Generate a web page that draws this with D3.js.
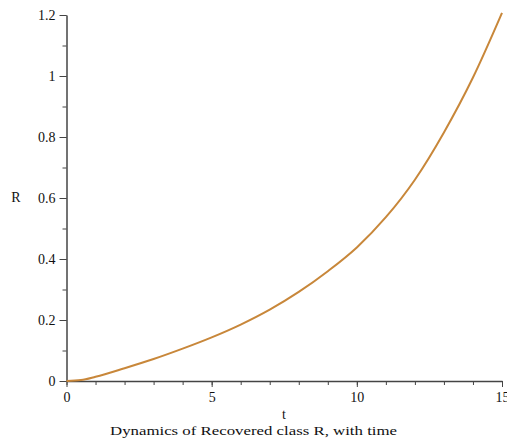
<!DOCTYPE html>
<html>
<head>
<meta charset="utf-8">
<script src="https://cdn.jsdelivr.net/npm/d3@7"></script>
<style>
  body { margin: 0; background: #fff; }
  text { font-family: "Liberation Serif", "DejaVu Serif", serif; fill: #111; }
</style>
</head>
<body>
<div id="chart"></div>
<script>
// values
var tValues = [0, 0.5, 1, 2, 3, 4, 5, 6, 7, 8, 9, 10, 11, 12, 13, 14, 15];
var rValues = [0, 0.003, 0.014, 0.042, 0.072, 0.106, 0.143, 0.185, 0.234, 0.292, 0.360, 0.438, 0.537, 0.660, 0.815, 0.995, 1.207];
var xTicks = [0, 5, 10, 15];
var yTicks = [0, 0.2, 0.4, 0.6, 0.8, 1, 1.2];
var xMinor = d3.range(0, 16, 1);
var yMinor = d3.range(0, 12.5, 1).map(d => d / 10);

var svgWidth = 507;
var svgHeight = 441;

var svg = d3.select("#chart")
    .append("svg")
    .attr("width", svgWidth)
    .attr("height", svgHeight);

var xScale = d3.scaleLinear().domain([0, 15]).range([66.5, 502]);
var yScale = d3.scaleLinear().domain([0, 1.2]).range([381, 15]);

var axisColor = "#444";

// minor ticks first
var xMinorAxis = d3.axisBottom(xScale).tickValues(xMinor).tickSize(4).tickFormat("");
var yMinorAxis = d3.axisLeft(yScale).tickValues(yMinor).tickSize(4).tickFormat("");

svg.append("g")
    .attr("transform", "translate(0,381)")
    .call(xMinorAxis)
    .call(g => g.select(".domain").remove())
    .selectAll("line").attr("stroke", axisColor);

svg.append("g")
    .attr("transform", "translate(66.5,0)")
    .call(yMinorAxis)
    .call(g => g.select(".domain").remove())
    .selectAll("line").attr("stroke", axisColor);

// major axes
var xAxis = d3.axisBottom(xScale).tickValues(xTicks).tickSize(6).tickSizeOuter(0).tickPadding(5);
var yAxis = d3.axisLeft(yScale).tickValues(yTicks).tickSize(7).tickSizeOuter(0).tickPadding(4)
    .tickFormat(d => d3.format("")(+d.toFixed(1)));

var gx = svg.append("g")
    .attr("transform", "translate(0,381)")
    .call(xAxis);
gx.select(".domain").attr("stroke", axisColor).attr("stroke-width", 1.5);
gx.selectAll("line").attr("stroke", axisColor);
gx.selectAll("text").attr("font-size", "14px").attr("font-family", "Liberation Serif").attr("fill", "#111");

var gy = svg.append("g")
    .attr("transform", "translate(66.5,0)")
    .call(yAxis);
gy.select(".domain").attr("stroke", axisColor).attr("stroke-width", 1.5);
gy.selectAll("line").attr("stroke", axisColor);
gy.selectAll("text").attr("font-size", "14px").attr("font-family", "Liberation Serif").attr("fill", "#111");

// the curve
var line = d3.line()
    .x((d, i) => xScale(tValues[i]))
    .y(d => yScale(d))
    .curve(d3.curveMonotoneX);

svg.append("path")
    .datum(rValues)
    .attr("d", line)
    .attr("fill", "none")
    .attr("stroke", "#C8873A")
    .attr("stroke-width", 2);

// axis labels
svg.append("text")
    .attr("x", 16)
    .attr("y", 202)
    .attr("font-size", "14px")
    .attr("text-anchor", "middle")
    .text("R");

svg.append("text")
    .attr("x", 284)
    .attr("y", 419)
    .attr("font-size", "14px")
    .attr("text-anchor", "middle")
    .text("t");

svg.append("text")
    .attr("x", 110)
    .attr("y", 435)
    .attr("font-size", "13px")
    .attr("textLength", 287)
    .attr("lengthAdjust", "spacingAndGlyphs")
    .text("Dynamics of Recovered class R, with time");
</script>
</body>
</html>
